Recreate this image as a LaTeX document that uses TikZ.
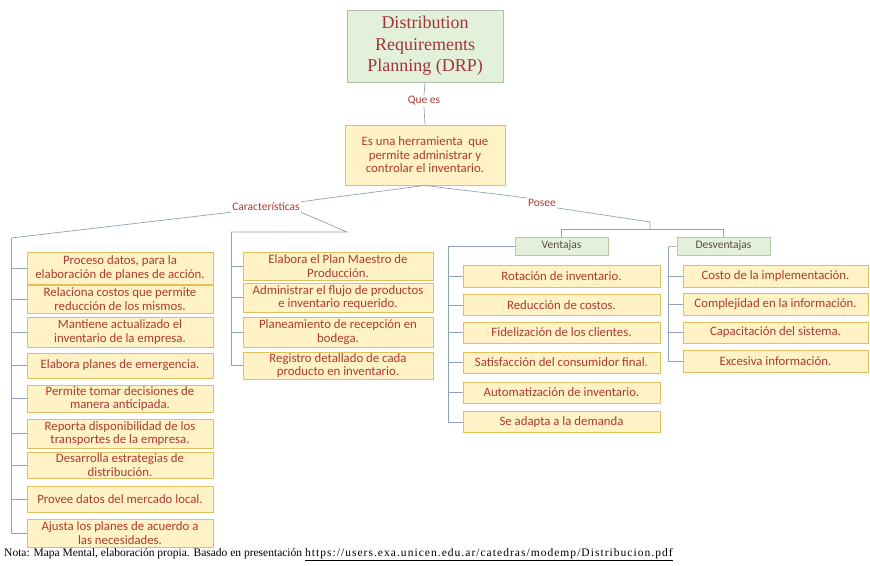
\documentclass[tikz,border=0pt]{standalone}
\usepackage{fontspec}
\setmainfont{Liberation Serif}
\newfontfamily\boxfnt{Carlito}
\newfontfamily\urlfnt[LetterSpace=9]{Liberation Serif}
\begin{document}
\definecolor{txt}{HTML}{B0392E}
\definecolor{titletxt}{HTML}{A3343A}
\definecolor{linkc}{HTML}{8FA2BC}
\definecolor{boxfill}{HTML}{FFF2C6}
\definecolor{boxedge}{HTML}{E0BF5C}
\definecolor{gfill}{HTML}{E3F0DA}
\definecolor{gedge}{HTML}{B3CBA6}
\definecolor{tedge}{HTML}{B4BCAC}
\definecolor{gtxt}{HTML}{5B4B3C}
\tikzset{
  ybox/.style={draw=boxedge, fill=boxfill, line width=0.6pt, inner sep=0.5pt,
    align=center, text=txt, font=\boxfnt\fontsize{12.8}{13.6}\selectfont},
  gbox/.style={draw=gedge, fill=gfill, line width=0.6pt, inner sep=1pt,
    align=center, text=gtxt, font=\boxfnt\fontsize{11.5}{12}\selectfont,
    minimum width=93pt, minimum height=18pt},
  lbl/.style={text=txt, inner sep=1pt, font=\boxfnt\fontsize{11.5}{12}\selectfont},
  link/.style={draw=linkc, line width=0.7pt},
  lcol/.style={ybox, minimum width=186pt},
  mcol/.style={ybox, minimum width=190pt},
  vcol/.style={ybox, minimum width=197pt},
  dcol/.style={ybox, minimum width=185pt}
}
\begin{tikzpicture}[x=1pt, y=-1pt]
\useasboundingbox (0,0) rectangle (870,565);

% central topic
\node[draw=tedge, fill=gfill, line width=0.6pt, minimum width=156pt, minimum height=72pt,
  align=center, text=titletxt, font=\rmfamily\fontsize{18}{21.5}\selectfont] (title) at (425,46)
  {Distribution\\Requirements\\Planning (DRP)};
\node[lbl, font=\boxfnt\fontsize{11.5}{12}\selectfont] (quees) at (424,101) {Que es};
\node[ybox, minimum width=160pt, minimum height=60pt] (desc) at (425,155)
  {Es una herramienta \ que\\permite administrar y\\controlar el inventario.};

% branch labels
\node[lbl] (car) at (266,207) {Características};
\node[lbl] (posee) at (542,203) {Posee};

% characteristics, first column
\node[lcol, minimum height=32pt] (L1) at (120,268) {Proceso datos, para la\\elaboración de planes de acción.};
\node[lcol, minimum height=28pt] (L2) at (120,299) {Relaciona costos que permite\\reducción de los mismos.};
\node[lcol, minimum height=30pt] (L3) at (120,332) {Mantiene actualizado el\\inventario de la empresa.};
\node[lcol, minimum height=25pt] (L4) at (120,365.5) {Elabora planes de emergencia.};
\node[lcol, minimum height=27pt] (L5) at (120,398.5) {Permite tomar decisiones de\\manera anticipada.};
\node[lcol, minimum height=29pt] (L6) at (120,433.5) {Reporta disponibilidad de los\\transportes de la empresa.};
\node[lcol, minimum height=26pt] (L7) at (120,465) {Desarrolla estrategias de\\distribución.};
\node[lcol, minimum height=26pt] (L8) at (120,499) {Provee datos del mercado local.};
\node[lcol, minimum height=28pt] (L9) at (120,533) {Ajusta los planes de acuerdo a\\las necesidades.};

% characteristics, second column
\node[mcol, minimum height=28pt] (M1) at (338,266) {Elabora el Plan Maestro de\\Producción.};
\node[mcol, minimum height=29pt] (M2) at (338,297.5) {Administrar el flujo de productos\\e inventario requerido.};
\node[mcol, minimum height=30pt] (M3) at (338,332) {Planeamiento de recepción en\\bodega.};
\node[mcol, minimum height=27pt] (M4) at (338,365.5) {Registro detallado de cada\\producto en inventario.};

% advantages and disadvantages
\node[gbox] (vent) at (561.5,246) {Ventajas};
\node[gbox] (desv) at (723.5,246) {Desventajas};

\node[vcol, minimum height=22pt] (V1) at (561.5,276) {Rotación de inventario.};
\node[vcol, minimum height=21pt] (V2) at (561.5,305) {Reducción de costos.};
\node[vcol, minimum height=21pt] (V3) at (561.5,332.5) {Fidelización de los clientes.};
\node[vcol, minimum height=21pt] (V4) at (561.5,362.5) {Satisfacción del consumidor final.};
\node[vcol, minimum height=21pt] (V5) at (561.5,392.5) {Automatización de inventario.};
\node[vcol, minimum height=21pt] (V6) at (561.5,422) {Se adapta a la demanda};

\node[dcol, minimum height=22pt] (D1) at (775.5,276) {Costo de la implementación.};
\node[dcol, minimum height=22pt] (D2) at (775.5,304) {Complejidad en la información.};
\node[dcol, minimum height=21pt] (D3) at (775.5,332.5) {Capacitación del sistema.};
\node[dcol, minimum height=22pt] (D4) at (775.5,361) {Excesiva información.};

% junction points of the tree
\coordinate (ltop) at (11,238);
\coordinate (mknee) at (347,232);
\coordinate (mtop) at (231,232);
\coordinate (pknee) at (650,222);
\coordinate (pjoin) at (650,229);
\coordinate (vtop) at (448,246);
\coordinate (dtop) at (668,247);

% connectors
\draw[link] (title.south) -- (quees.north);
\draw[link] (quees.south) -- (desc.north);
\draw[link] (desc.south) to[out=188,in=8] (car.north east);
\draw[link] (desc.south) to[out=-8,in=172] (posee.north west);

\draw[link] (car.south west) -- (ltop);
\foreach \b in {L1,L2,L3,L4,L5,L6,L7,L8,L9} \draw[link] (ltop) |- (\b.west);

\draw[link] (car.south east) -- (mknee) -- (mtop);
\foreach \b in {M1,M2,M3,M4} \draw[link] (mtop) |- (\b.west);

\draw[link] (posee.south east) -- (pknee) -- (pjoin);
\draw[link] (vent.north) |- (pjoin);
\draw[link] (desv.north) |- (pjoin);

\draw[link] (vent.west) -- (vtop);
\foreach \b in {V1,V2,V3,V4,V5,V6} \draw[link] (vtop) |- (\b.west);

\draw[link] (desv.west) -- (dtop);
\foreach \b in {D1,D2,D3,D4} \draw[link] (dtop) |- (\b.west);

% source note
\node[anchor=west, inner sep=0pt, font=\fontsize{11.5}{13}\selectfont] (nota) at (4,555)
  {Nota: Mapa Mental, elaboración propia. Basado en presentación {\urlfnt\underline{https://users.exa.unicen.edu.ar/catedras/modemp/Distribucion.pdf}}};
\end{tikzpicture}
\end{document}
